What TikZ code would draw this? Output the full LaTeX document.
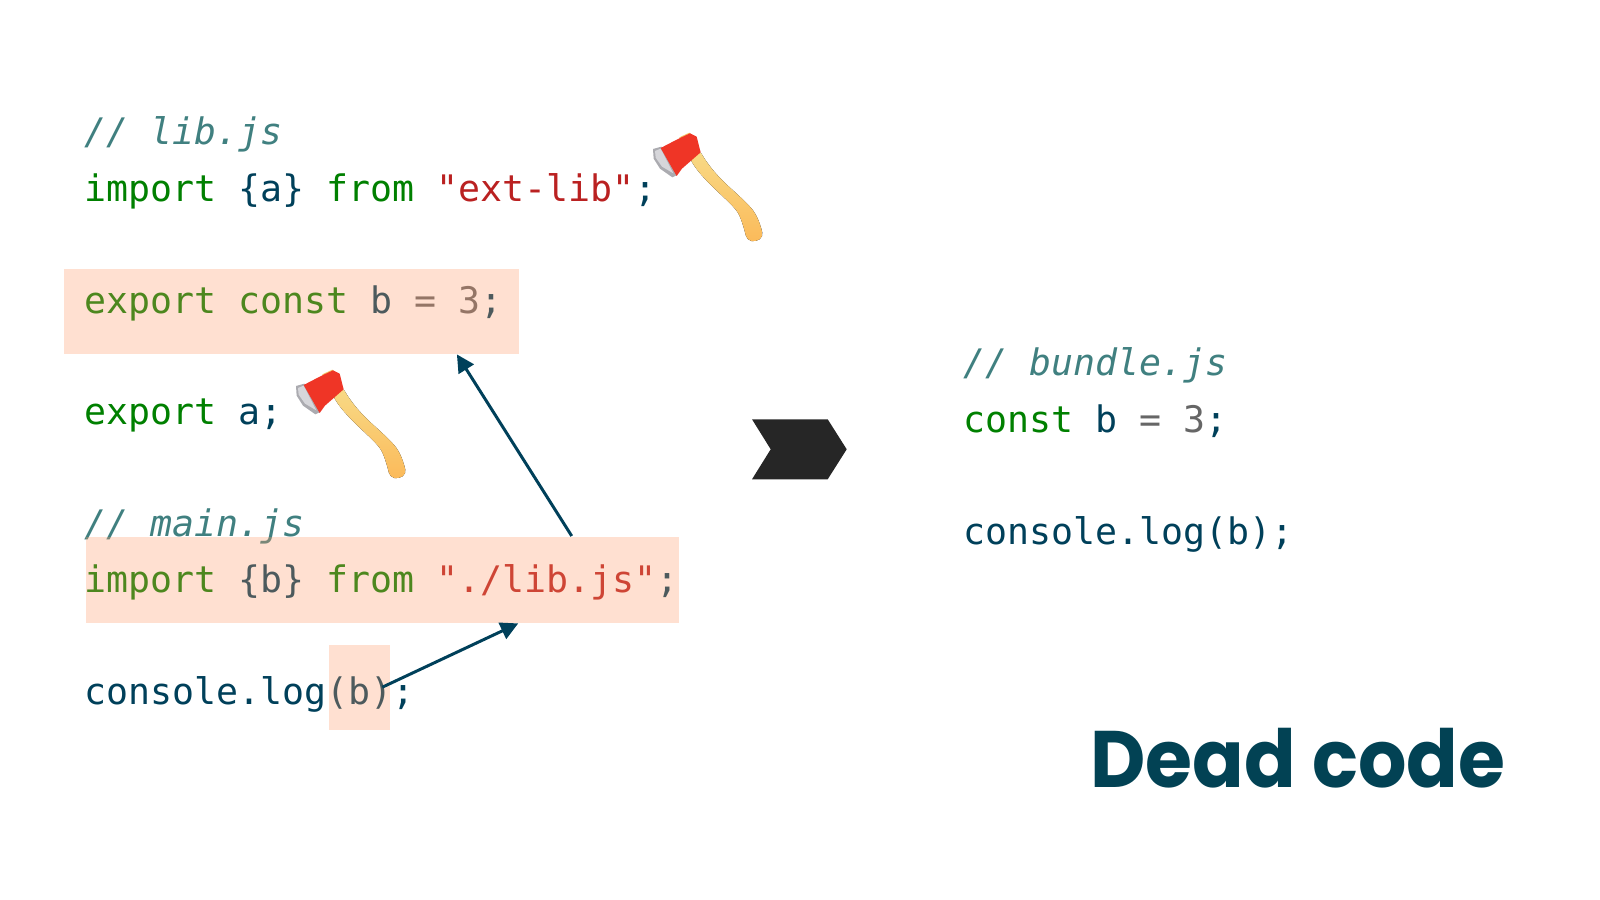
\documentclass[tikz,border=0pt]{standalone}
\usepackage{fontspec}
\setmonofont{DejaVu Sans Mono}
\newfontfamily\titlefont[BoldFeatures={FakeStretch=0.95}]{Poppins}
\usetikzlibrary{arrows.meta,calc}
\definecolor{kw}{HTML}{008000}
\definecolor{nm}{HTML}{00405A}
\definecolor{st}{HTML}{BA2121}
\definecolor{cm}{HTML}{408080}
\definecolor{nu}{HTML}{666666}
\definecolor{ttl}{HTML}{024254}
\newcommand\K[1]{\textcolor{kw}{#1}}
\newcommand\N[1]{\textcolor{nm}{#1}}
\newcommand\St[1]{\textcolor{st}{#1}}
\newcommand\Cm[1]{\textcolor{cm}{\itshape #1}}
\newcommand\Nu[1]{\textcolor{nu}{#1}}
\definecolor{woodtop}{HTML}{F8DA86}
\definecolor{woodbot}{HTML}{FBBA5A}
\definecolor{woodend}{HTML}{F4C466}
\definecolor{bladeout}{HTML}{ABABB0}
\definecolor{bladein}{HTML}{D6D6DA}
\definecolor{axered}{HTML}{EF3526}
\definecolor{chev}{HTML}{262626}
\tikzset{
  code/.style={inner sep=0pt,anchor=base west,font=\ttfamily\fontsize{10.4pt}{12pt}\selectfont},
  hl/.style={fill={rgb,255:red,255;green,153;blue,102},fill opacity=0.3,text opacity=1,inner sep=0pt,anchor=north west},
  dep/.style={draw=nm,line width=0.85pt,-{Triangle[length=5pt,width=5pt]}},
  pics/axe/.style={code={
    \begin{scope}[x=0.03333mm,y=-0.03333mm]
      \fill[top color=woodtop,bottom color=woodbot,rounded corners=1.2pt]
        (148,112) .. controls (180,170) and (235,215) .. (282,262)
        .. controls (303,290) and (312,325) .. (321,360)
        -- (347,366) -- (370,350)
        .. controls (358,300) and (345,275) .. (318,248)
        .. controls (275,205) and (225,170) .. (178,90) -- cycle;
      \fill[woodend] (118,52)--(148,38)--(168,55)--(130,72)--cycle;
      \fill[bladeout] (39,87)--(64,80)--(112,165)--(97,172)--(60,146)--(41,116)--cycle;
      \fill[bladein] (45,93)--(62,86)--(100,160)--(66,140)--(47,113)--cycle;
      \fill[axered] (62,84)--(114,57)--(150,40)--(170,50)--(182,97)--(126,146)--(110,168)--cycle;
    \end{scope}}}
}
\begin{document}
\begin{tikzpicture}[x=0.1mm,y=-0.1mm]
\useasboundingbox (0,0) rectangle (1600,900);
% code, left
\node[code] (l1) at (83.5,145) {\Cm{// lib.js}};
\node[code] (l2) at (83.5,202) {\K{import} \N{\{a\}} \K{from} \St{"ext-lib"}\N{;}};
\node[code] (l3) at (83.5,313.5) {\K{export const} \N{b} \Nu{= 3}\N{;}};
\node[code] (l4) at (83.5,424.5) {\K{export} \N{a;}};
\node[code] (l5) at (83.5,536) {\Cm{// main.js}};
\node[code] (l6) at (83.5,592) {\K{import} \N{\{b\}} \K{from} \St{"./lib.js"}\N{;}};
\node[code] (l7) at (83.5,704) {\N{console.log(b);}};
% code, right
\node[code] (r1) at (962.5,375.5) {\Cm{// bundle.js}};
\node[code] (r2) at (962.5,432) {\K{const} \N{b} \Nu{= 3}\N{;}};
\node[code] (r3) at (962.5,544) {\N{console.log(b);}};
% highlights
\node[hl,minimum width=45.5mm,minimum height=8.5mm] (hexport) at (63.5,268) {};
\node[hl,minimum width=59.3mm,minimum height=8.6mm] (himport) at (85.5,536) {};
\node[hl,minimum width=6.1mm,minimum height=8.5mm] (huse) at (328,644) {};
% axes
\pic at (640,120) {axe};
\pic at (283,357) {axe};
% chevron
\fill[chev] (752,419.3)--(827.7,419.3)--(846.7,449.3)--(827.7,479.3)--(752,479.3)--(770.7,449.3)--cycle;
% connectors
\coordinate (a1s) at ($(himport.north west)!0.818!(himport.north east)$);
\coordinate (a1e) at ($(hexport.south west)!0.862!(hexport.south east)$);
\coordinate (a2s) at ($(huse.west)!0.87!(huse.east)$);
\coordinate (a2e) at ($(himport.south west)!0.728!(himport.south east)$);
\draw[dep] (a1s) -- (a1e);
\draw[dep] (a2s) -- (a2e);
% title
\node[inner sep=0pt,anchor=base east,text=ttl,font=\titlefont\bfseries\fontsize{22.8pt}{26pt}\selectfont] (title) at (1506,787) {Dead code};
\end{tikzpicture}
\end{document}
